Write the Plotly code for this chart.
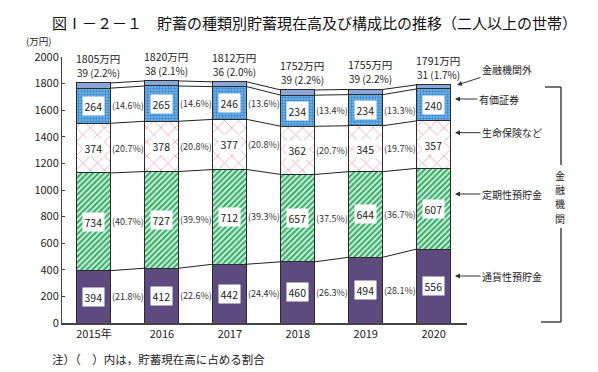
import plotly.graph_objects as go

# ---- data ----
years = ["2015年", "2016", "2017", "2018", "2019", "2020"]
tsuuka = [394, 412, 442, 460, 494, 556]      # 通貨性預貯金
teiki = [734, 727, 712, 657, 644, 607]       # 定期性預貯金
seimei = [374, 378, 377, 362, 345, 357]      # 生命保険など
yuka = [264, 265, 246, 234, 234, 240]        # 有価証券
gaibu = [39, 38, 36, 39, 39, 31]             # 金融機関外
totals = [1805, 1820, 1812, 1752, 1755, 1791]
pct_tsuuka = [21.8, 22.6, 24.4, 26.3, 28.1, 31.0]
pct_teiki = [40.7, 39.9, 39.3, 37.5, 36.7, 33.9]
pct_seimei = [20.7, 20.8, 20.8, 20.7, 19.7, 19.9]
pct_yuka = [14.6, 14.6, 13.6, 13.4, 13.3, 13.4]
pct_gaibu = [2.2, 2.1, 2.0, 2.2, 2.2, 1.7]
series_names = ["通貨性預貯金", "定期性預貯金", "生命保険など", "有価証券", "金融機関外"]
bracket_chars = ["金", "融", "機", "関"]

NARROW = "Liberation Sans Narrow, Noto Sans CJK JP, sans-serif"
CJK = "Noto Sans CJK JP, sans-serif"

xs = list(range(len(years)))
BW = 0.5
series = [tsuuka, teiki, seimei, yuka, gaibu]
pcts = [pct_tsuuka, pct_teiki, pct_seimei, pct_yuka, pct_gaibu]

styles = [
    dict(color="#5d4a7f"),
    dict(color="#7fd3a0", pattern=dict(shape="/", fgcolor="#30aa66", bgcolor="#cdf0da", size=4, solidity=0.48, fillmode="replace")),
    dict(color="#f6c8cc", pattern=dict(shape="x", fgcolor="#f29aa6", bgcolor="#ffffff", size=10, solidity=0.15, fillmode="replace")),
    dict(color="#6aaee0", pattern=dict(shape=".", fgcolor="#3d8ad0", bgcolor="#78b8e8", size=3, solidity=0.5, fillmode="replace")),
    dict(color="#8aa6d6"),
]

fig = go.Figure()
for name, vals, st in zip(series_names, series, styles):
    fig.add_trace(go.Bar(x=xs, y=vals, width=BW, name=name,
                         marker=dict(line=dict(color="#2b2b2b", width=1), **st),
                         showlegend=False, hoverinfo="skip"))

# cumulative boundaries
cums = []
run = [0] * len(xs)
for vals in series:
    lo = run[:]
    run = [a + b for a, b in zip(run, vals)]
    cums.append((lo, run[:]))

# connecting lines between bars
for lo, hi in cums:
    lx, ly = [], []
    for i in range(len(xs) - 1):
        lx += [xs[i] + BW / 2, xs[i + 1] - BW / 2, None]
        ly += [hi[i], hi[i + 1], None]
    fig.add_trace(go.Scatter(x=lx, y=ly, mode="lines", line=dict(color="#222", width=1),
                             showlegend=False, hoverinfo="skip"))

ann = []
last_shift = [-5, -6, -9, -12]
# in-bar value labels (white boxes) and percent labels
for k in range(4):
    lo, hi = cums[k]
    for i in xs:
        mid = (lo[i] + hi[i]) / 2
        ann.append(dict(x=xs[i], y=mid, xref="x", yref="y", text=str(series[k][i]),
                        showarrow=False, bgcolor="#ffffff", borderpad=1.5,
                        xanchor="center", yanchor="middle",
                        font=dict(family=NARROW, size=10.5, color="#222")))
        ann.append(dict(x=xs[i] + 0.5, y=mid, xref="x", yref="y",
                        text=f"({pcts[k][i]:.1f}%)", showarrow=False,
                        xanchor="center", yanchor="middle",
                        yshift=last_shift[k] if i == len(xs) - 1 else 0,
                        font=dict(family=NARROW, size=9, color="#333")))
# top labels
top = cums[4][1]
for i in xs:
    ann.append(dict(x=xs[i], y=top[i], xref="x", yref="y",
                    text=f"{gaibu[i]} ({pct_gaibu[i]:.1f}%)", showarrow=False,
                    xanchor="center", yanchor="bottom", yshift=1, xshift=5,
                    font=dict(family=NARROW, size=10, color="#222")))
    ann.append(dict(x=xs[i], y=top[i], xref="x", yref="y",
                    text=f"{totals[i]}万円", showarrow=False,
                    xanchor="center", yanchor="bottom", yshift=15, xshift=4,
                    font=dict(family=NARROW, size=10.5, color="#222")))

# page has an 8px body margin: figure is placed at (8, 8)
OFF = 8
PX0, PW, PY0, PH = 62, 405, 323, 266
def px(x):
    return (x - PX0) / PW
def py(y):
    return (PY0 - y) / PH

side = [
    ("金融機関外", 457, 85, 50, -16),
    ("有価証券", 455, 99, 44, 0),
    ("生命保険など", 455, 132.7, 57, 0),
    ("定期性預貯金", 455, 194, 57, 0),
    ("通貨性預貯金", 455, 276, 57, 0),
]
for text, hx, hy, ax, ay in side:
    ann.append(dict(x=px(hx), y=py(hy), xref="paper", yref="paper", text=text,
                    showarrow=True, ax=ax, ay=ay, arrowhead=2, arrowsize=1,
                    arrowwidth=1, arrowcolor="#333", standoff=0,
                    font=dict(family=CJK, size=10, color="#222")))

# bracket text, one character per line
for j, ch in enumerate(bracket_chars):
    ann.append(dict(x=px(560), y=py(175.5 + 14.2 * j), xref="paper", yref="paper",
                    xanchor="center", yanchor="middle", text=ch, showarrow=False,
                    borderpad=0, font=dict(family=CJK, size=10, color="#222")))

# title, unit, note
ann.append(dict(x=px(314.5), y=py(22), xref="paper", yref="paper",
                xanchor="center", yanchor="middle",
                text="図Ⅰ－２－１　貯蓄の種類別貯蓄現在高及び構成比の推移（二人以上の世帯）",
                showarrow=False, font=dict(family=CJK, size=15, color="#111")))
ann.append(dict(x=px(38.5), y=py(41), xref="paper", yref="paper", text="(万円)",
                xanchor="center", yanchor="middle",
                showarrow=False, font=dict(family=NARROW, size=9.5, color="#222")))
ann.append(dict(x=px(50), y=py(359), xref="paper", yref="paper", xanchor="left",
                yanchor="middle",
                text="注）（　）内は，貯蓄現在高に占める割合",
                showarrow=False, font=dict(family=CJK, size=11.5, color="#222")))

BR = dict(color="#444", width=1.5)
shapes = [
    dict(type="line", xref="paper", yref="paper", x0=px(561), x1=px(561), y0=py(87), y1=py(165), line=BR),
    dict(type="line", xref="paper", yref="paper", x0=px(561), x1=px(561), y0=py(228), y1=py(322), line=BR),
    dict(type="line", xref="paper", yref="paper", x0=px(545), x1=px(561), y0=py(87), y1=py(87), line=BR),
    dict(type="line", xref="paper", yref="paper", x0=px(541), x1=px(561), y0=py(322), y1=py(322), line=BR),
]

fig.update_layout(
    width=598 - OFF, height=372 - OFF,
    margin=dict(l=62 - OFF, r=131, t=57 - OFF, b=49),
    barmode="stack",
    plot_bgcolor="#ffffff", paper_bgcolor="#ffffff",
    annotations=ann, shapes=shapes,
    xaxis=dict(range=[-0.47, 5.49], tickmode="array", tickvals=xs, ticktext=years,
               showgrid=False, zeroline=False, showline=True, linecolor="#444",
               linewidth=1.5, ticks="", tickfont=dict(family=NARROW, size=11, color="#222")),
    yaxis=dict(range=[0, 2000], dtick=200, showgrid=False, zeroline=False,
               showline=True, linecolor="#444", linewidth=1, ticks="inside",
               ticklen=3, tickcolor="#444",
               tickfont=dict(family=NARROW, size=11, color="#222")),
)

fig.write_html("out.html")
